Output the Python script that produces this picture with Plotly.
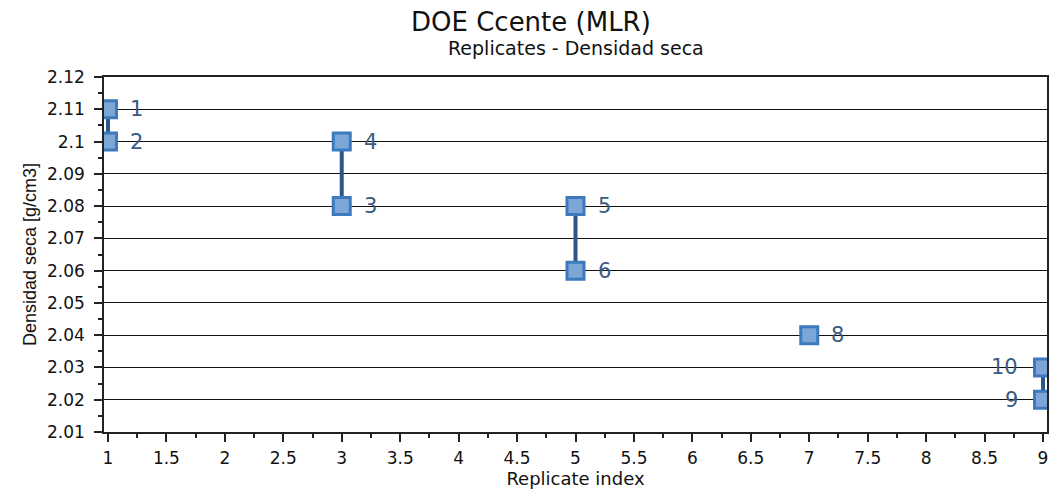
import plotly.graph_objects as go

# ---- data ----
replicate_index = [1, 1, 3, 3, 5, 5, 7, 9, 9]
density = [2.11, 2.10, 2.08, 2.10, 2.08, 2.06, 2.04, 2.02, 2.03]
point_labels = ["1", "2", "3", "4", "5", "6", "8", "9", "10"]
label_side = ["right", "right", "right", "right", "right", "right", "right", "left", "left"]

x_tick_vals = [1, 1.5, 2, 2.5, 3, 3.5, 4, 4.5, 5, 5.5, 6, 6.5, 7, 7.5, 8, 8.5, 9]
x_tick_text = ["1", "1.5", "2", "2.5", "3", "3.5", "4", "4.5", "5", "5.5", "6", "6.5", "7", "7.5", "8", "8.5", "9"]
y_tick_vals = [2.01, 2.02, 2.03, 2.04, 2.05, 2.06, 2.07, 2.08, 2.09, 2.10, 2.11, 2.12]
y_tick_text = ["2.01", "2.02", "2.03", "2.04", "2.05", "2.06", "2.07", "2.08", "2.09", "2.1", "2.11", "2.12"]

# connectors between replicates that share an index
groups = {}
for xi, yi in zip(replicate_index, density):
    groups.setdefault(xi, []).append(yi)
cx, cy = [], []
for xi, ys in groups.items():
    if len(ys) > 1:
        cx += [xi, xi, None]
        cy += [min(ys), max(ys), None]

FONT = "DejaVu Sans"
W, H = 1049, 489
ML, MR, MT, MB = 104, 2, 77, 57
PW, PH = W - ML - MR, H - MT - MB

fig = go.Figure()
fig.add_trace(go.Scatter(x=cx, y=cy, mode="lines",
                         line=dict(color="#2b5687", width=4),
                         hoverinfo="skip", showlegend=False))
fig.add_trace(go.Scatter(x=replicate_index, y=density, mode="markers",
                         marker=dict(symbol="square", size=17, color="#7ca6d6",
                                     line=dict(color="#3c7abd", width=3)),
                         showlegend=False))

for xi, yi, lab, side in zip(replicate_index, density, point_labels, label_side):
    fig.add_annotation(x=xi, y=yi, text=lab, showarrow=False,
                       xanchor="left" if side == "right" else "right",
                       xshift=20 if side == "right" else -23,
                       font=dict(family=FONT, size=21, color="#3b5b82"))

def px_to_paper(page_x, page_y):
    return (page_x - ML) / PW, (H - MB - page_y) / PH

tx, ty = px_to_paper(531, 22)
fig.add_annotation(x=tx, y=ty, xref="paper", yref="paper", xanchor="center", yanchor="middle",
                   text="DOE Ccente (MLR)", showarrow=False,
                   font=dict(family=FONT, size=26, color="#111"))
sx, sy = px_to_paper(576, 48)
fig.add_annotation(x=sx, y=sy, xref="paper", yref="paper", xanchor="center", yanchor="middle",
                   text="Replicates - Densidad seca", showarrow=False,
                   font=dict(family=FONT, size=19, color="#111"))

fig.update_layout(
    width=W, height=H,
    margin=dict(l=ML, r=MR, t=MT, b=MB),
    paper_bgcolor="white", plot_bgcolor="white",
    font=dict(family=FONT, size=17, color="#111"),
)

fig.update_xaxes(
    range=[0.966, 9.034], tickvals=x_tick_vals, ticktext=x_tick_text,
    showgrid=False, zeroline=False, automargin=False,
    showline=True, linecolor="#222", linewidth=1.5, mirror=True,
    ticks="outside", ticklen=8, tickwidth=1.5, tickcolor="#222",
    ticklabelstandoff=2,
    minor=dict(dtick=0.25, tick0=1, ticks="outside", ticklen=4, tickwidth=1.5, tickcolor="#222", showgrid=False),
    title=dict(text="Replicate index", standoff=2, font=dict(family=FONT, size=18)),
    tickfont=dict(family=FONT, size=17),
)
fig.update_yaxes(
    range=[2.01, 2.12], tickvals=y_tick_vals, ticktext=y_tick_text,
    showgrid=True, gridcolor="#111", gridwidth=1, zeroline=False, automargin=False,
    showline=True, linecolor="#222", linewidth=1.5, mirror=True,
    ticks="outside", ticklen=8, tickwidth=1.5, tickcolor="#222",
    ticklabelstandoff=6,
    minor=dict(dtick=0.005, tick0=2.01, ticks="outside", ticklen=4, tickwidth=1.5, tickcolor="#222", showgrid=False),
    title=dict(text="Densidad seca [g/cm3]", standoff=6, font=dict(family="Liberation Sans", size=18)),
    tickfont=dict(family=FONT, size=17),
)

fig.write_html("out.html", config={"displayModeBar": False},
               post_script="document.body.style.margin='0';document.body.style.overflow='hidden';")
